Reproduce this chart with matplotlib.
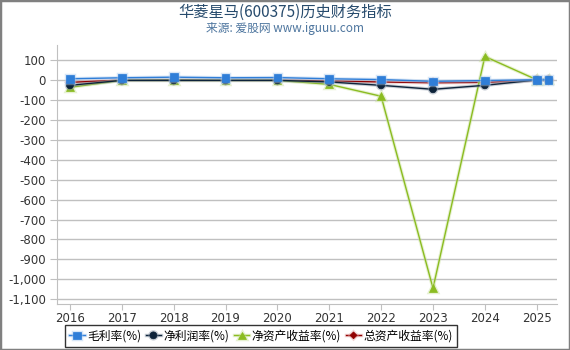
import matplotlib
matplotlib.use("Agg")
import matplotlib.pyplot as plt
from matplotlib.patches import Rectangle
from matplotlib.ticker import FuncFormatter
import matplotlib.patheffects as pe

plt.rcParams['font.family'] = ['DejaVu Sans', 'Noto Sans CJK SC']

years = [2016, 2017, 2018, 2019, 2020, 2021, 2022, 2023, 2024, 2025, 2025.23]
xticks = [2016, 2017, 2018, 2019, 2020, 2021, 2022, 2023, 2024, 2025]
gross_margin = [8, 13, 16, 13, 14, 8, 4, -5, -1, 3, 3]
net_margin = [-25, 0, 0, 0, 0, -8, -25, -45, -25, 2, 3]
roe = [-35, 0, 0, 0, 0, -20, -80, -1045, 120, 3, 5]
roa = [-10, 1, 1, 1, 1, -3, -8, -12, -10, 1, 1]

labels = ['毛利率(%)', '净利润率(%)', '净资产收益率(%)', '总资产收益率(%)']
yticks = list(range(100, -1101, -100))

fig = plt.figure(figsize=(5.7, 3.5), dpi=100)
ax = fig.add_axes([0.1, 0.131, 0.878, 0.74])

series = [
    (gross_margin, '#2f7ed8', 's', 5.5, '#a8c8ee'),
    (net_margin, '#0d233a', 'o', 5, '#8a97a8'),
    (roe, '#8bbc21', '^', 5.5, '#c8e09a'),
    (roa, '#910000', 'D', 3.5, '#e0a0a0'),
]
order = [2, 3, 1, 0]
handles = {}
for i in order:
    vals, col, mk, ms, halo = series[i]
    h, = ax.plot(years, vals, color=col, lw=1.0, marker=mk, markersize=ms,
                 markeredgecolor=col, markeredgewidth=0.5, label=labels[i], zorder=3 + (3 - i),
                 path_effects=[pe.Stroke(linewidth=2.5, foreground=halo, alpha=0.45), pe.Normal()])
    handles[i] = h

ax.set_xlim(2015.75, 2025.4)
ax.set_ylim(-1125, 177)
ax.set_xticks(xticks)
ax.set_yticks(yticks)
ax.yaxis.set_major_formatter(FuncFormatter(lambda v, p: f'{int(v):,}'))
ax.grid(axis='y', color='#c0c0c0', lw=1)
ax.set_axisbelow(True)
for s in ['top', 'right']:
    ax.spines[s].set_visible(False)
for s in ['left', 'bottom']:
    ax.spines[s].set_color('#c0c0c0')
ax.tick_params(axis='both', colors='#c0c0c0', labelcolor='#333333', labelsize=8.5)
ax.tick_params(axis='y', length=5, pad=3)
ax.tick_params(axis='x', length=4, pad=1.5)

fig.text(0.5, 0.965, '华菱星马(600375)历史财务指标', ha='center', va='center',
         fontsize=11, color='#274b6d', family=['Noto Sans CJK SC', 'DejaVu Sans'])
fig.text(0.5, 0.918, '来源: 爱股网 www.iguuu.com', ha='center', va='center',
         fontsize=8.5, color='#4d759e', family=['Noto Sans CJK SC', 'DejaVu Sans'])

leg = fig.legend([handles[i] for i in range(4)], labels, loc='center',
                 bbox_to_anchor=(0.458, 0.04), ncol=4, frameon=True,
                 fancybox=False, edgecolor='black', handlelength=1.3, handletextpad=0.2,
                 columnspacing=0.4, borderpad=0.35, borderaxespad=0,
                 prop={'family': ['Noto Sans CJK SC', 'DejaVu Sans'], 'size': 8.5})
leg.get_frame().set_linewidth(1.0)

fig.patches.append(Rectangle((0, 0), 1, 1, transform=fig.transFigure, fill=False,
                             edgecolor='#808080', lw=2.5, zorder=10))

fig.savefig('out.png', dpi=100)
